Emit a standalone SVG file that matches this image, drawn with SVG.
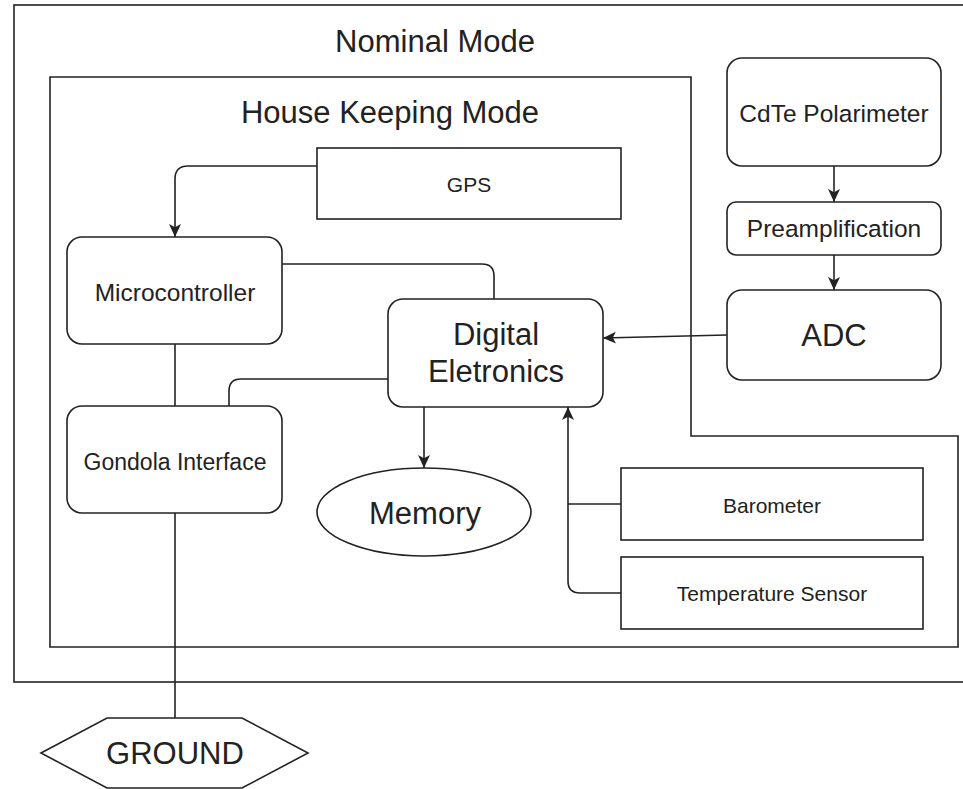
<svg xmlns="http://www.w3.org/2000/svg" width="963" height="789" viewBox="0 0 963 789">
<style>
.b{fill:#fff;stroke:#222;stroke-width:1.6}
.c{fill:none;stroke:#222;stroke-width:1.6}
text{font-family:"Liberation Sans",Arial,sans-serif;fill:#222;text-anchor:middle;dominant-baseline:central}
.L{font-size:31px}
.M{font-size:24.5px}
.S{font-size:21px}
</style>
<defs>
<marker id="a" viewBox="0 0 12 12" refX="12" refY="6" markerWidth="13" markerHeight="13" markerUnits="userSpaceOnUse" orient="auto">
<path d="M0,0.5 L12,6 L0,11.5 L3,6 Z" fill="#222"/>
</marker>
</defs>
<rect width="963" height="789" fill="#fff"/>
<g id="nominal">
<rect class="b" x="14" y="5" width="970" height="677"/>
<text class="L" x="435" y="41">Nominal Mode</text>
</g>
<g id="housekeeping">
<path class="b" d="M50,77 H691 V436 H958 V647 H50 Z"/>
<text class="L" x="390" y="112">House Keeping Mode</text>
</g>
<g id="connectors">
<path class="c" d="M317,166 H188 Q175,166 175,179 V237" marker-end="url(#a)"/>
<path class="c" d="M282,264 H482 Q494,264 494,276 V299"/>
<path class="c" d="M175,344 V406"/>
<path class="c" d="M388,379 H241 Q229,379 229,391 V406"/>
<path class="c" d="M424,407 L424,468" marker-end="url(#a)"/>
<path class="c" d="M834,166 V202" marker-end="url(#a)"/>
<path class="c" d="M834,255 V290" marker-end="url(#a)"/>
<path class="c" d="M727,335 L603,338" marker-end="url(#a)"/>
<path class="c" d="M621,593 H580 Q568,593 568,581 V407" marker-end="url(#a)"/>
<path class="c" d="M621,504 H568"/>
<path class="c" d="M175,513 V718"/>
</g>
<g id="gps">
<rect class="b" x="317" y="148" width="304" height="71"/>
<text class="S" x="469" y="184">GPS</text>
</g>
<g id="microcontroller">
<rect class="b" x="67" y="237" width="215" height="107" rx="15"/>
<text class="M" x="175" y="292">Microcontroller</text>
</g>
<g id="gondola">
<rect class="b" x="67" y="406" width="215" height="107" rx="15"/>
<text class="M" x="175" y="462" style="font-size:23px">Gondola Interface</text>
</g>
<g id="digital">
<rect class="b" x="388" y="299" width="215" height="108" rx="15"/>
<text class="L" x="496" y="334">Digital</text>
<text class="L" x="496" y="371">Eletronics</text>
</g>
<g id="memory">
<ellipse class="b" cx="424" cy="512" rx="107" ry="44"/>
<text class="L" x="425" y="513">Memory</text>
</g>
<g id="cdte">
<rect class="b" x="727" y="58" width="214" height="108" rx="15"/>
<text class="M" x="834" y="113">CdTe Polarimeter</text>
</g>
<g id="preamp">
<rect class="b" x="727" y="202" width="214" height="53" rx="9"/>
<text class="M" x="834" y="228">Preamplification</text>
</g>
<g id="adc">
<rect class="b" x="727" y="290" width="214" height="90" rx="15"/>
<text class="L" x="834" y="335">ADC</text>
</g>
<g id="barometer">
<rect class="b" x="621" y="468" width="302" height="72"/>
<text class="S" x="772" y="505">Barometer</text>
</g>
<g id="temperature">
<rect class="b" x="621" y="557" width="302" height="72"/>
<text class="S" x="772" y="593">Temperature Sensor</text>
</g>
<g id="ground">
<path class="b" d="M41,753 L107,718 H242 L308,753 L242,788 H107 Z"/>
<text class="L" x="175" y="753">GROUND</text>
</g>
</svg>
